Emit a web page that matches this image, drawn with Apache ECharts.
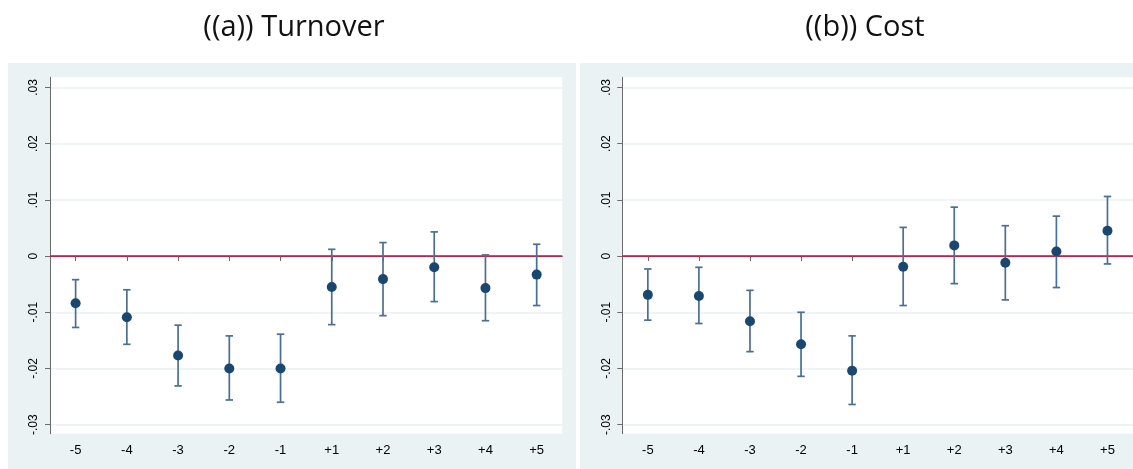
<!DOCTYPE html>
<html>
<head>
<meta charset="utf-8">
<script src="https://cdn.jsdelivr.net/npm/echarts@6/dist/echarts.min.js"></script>
<style>
html,body{margin:0;padding:0;background:#fff;}
#c{width:1133px;height:469px;}
</style>
</head>
<body>
<div id="c"></div>
<script>
// ---- data ----
const categories = ['-5','-4','-3','-2','-1','+1','+2','+3','+4','+5'];
const titles = ['((a)) Turnover', '((b)) Cost'];

const turnoverCoef = [-0.0084, -0.0109, -0.0177, -0.0200, -0.0200, -0.0055, -0.0041, -0.0020, -0.0057, -0.0033];
const turnoverLow  = [-0.0127, -0.0157, -0.0231, -0.0256, -0.0260, -0.0122, -0.0106, -0.0081, -0.0115, -0.0088];
const turnoverHigh = [-0.0042, -0.0060, -0.0123, -0.0142, -0.0139,  0.0012,  0.0024,  0.0043,  0.0002,  0.0021];

const costCoef = [-0.0069, -0.0071, -0.0116, -0.0157, -0.0204, -0.0019,  0.0019, -0.0012,  0.0008,  0.0045];
const costLow  = [-0.0114, -0.0120, -0.0170, -0.0214, -0.0264, -0.0088, -0.0049, -0.0078, -0.0056, -0.0014];
const costHigh = [-0.0023, -0.0020, -0.0061, -0.0100, -0.0142,  0.0051,  0.0087,  0.0054,  0.0071,  0.0106];

const yTickValues = [-0.03, -0.02, -0.01, 0, 0.01, 0.02, 0.03];
const yTickLabels = ['-.03', '-.02', '-.01', '0', '.01', '.02', '.03'];
const referenceLine = 0;

// ---- chart ----
const chart = echarts.init(document.getElementById('c'), null, {renderer: 'canvas'});

const navy = '#1a476f';
const barColor = '#4a6f93';
const textColor = '#000';
const axisColor = '#6b6b6b';
const panelBg = '#eaf2f3';

const grids = [
  {left: 50, top: 77.3, right: 570.7, bottom: 35.3},
  {left: 622.3, top: 77.3, right: -1, bottom: 35.3}
];

function makeX(gi) {
  return {
    type: 'category', gridIndex: gi, data: categories, boundaryGap: true,
    axisLine: {show: true, lineStyle: {color: axisColor, width: 1}},
    axisTick: {show: true, alignWithLabel: true, length: 5, lineStyle: {color: axisColor}},
    axisLabel: {color: textColor, fontFamily: 'Arial, Liberation Sans, sans-serif', fontSize: 13, margin: 10},
    splitLine: {show: false}
  };
}
function makeY(gi) {
  return {
    type: 'value', gridIndex: gi, min: -0.0316, max: 0.0318,
    axisLine: {show: true, lineStyle: {color: axisColor, width: 1}},
    axisTick: {show: true, length: 5, customValues: yTickValues, lineStyle: {color: axisColor}},
    axisLabel: {
      show: true, customValues: yTickValues, rotate: 90, color: textColor,
      fontFamily: 'Arial, Liberation Sans, sans-serif', fontSize: 12, margin: 10,
      formatter: function (v) {
        const i = yTickValues.findIndex(t => Math.abs(t - v) < 1e-9);
        return i >= 0 ? yTickLabels[i] : '';
      }
    },
    splitLine: {show: true, lineStyle: {color: '#eaf2f3', width: 1.5}}
  };
}

function errorSeries(gi, low, high) {
  return {
    type: 'custom', xAxisIndex: gi, yAxisIndex: gi, z: 3,
    data: categories.map((c, i) => [i, low[i], high[i]]),
    renderItem: function (params, api) {
      const x = api.value(0);
      const p1 = api.coord([x, api.value(1)]);
      const p2 = api.coord([x, api.value(2)]);
      const hw = 3.7;
      const style = {stroke: barColor, lineWidth: 1.7, fill: null};
      return {
        type: 'group',
        children: [
          {type: 'line', shape: {x1: p1[0], y1: p1[1], x2: p2[0], y2: p2[1]}, style: style},
          {type: 'line', shape: {x1: p1[0] - hw, y1: p1[1], x2: p1[0] + hw, y2: p1[1]}, style: style},
          {type: 'line', shape: {x1: p2[0] - hw, y1: p2[1], x2: p2[0] + hw, y2: p2[1]}, style: style}
        ]
      };
    }
  };
}
function pointSeries(gi, coef) {
  return {
    type: 'scatter', xAxisIndex: gi, yAxisIndex: gi, z: 4,
    symbol: 'circle', symbolSize: 10,
    itemStyle: {color: navy, opacity: 1},
    data: coef.map((v, i) => [i, v]),
    markLine: {
      silent: true, symbol: 'none', label: {show: false}, z: 2,
      lineStyle: {color: '#d0103a', width: 1.5, type: 'solid'},
      data: [{yAxis: referenceLine}]
    }
  };
}

const titleStyle = {fontFamily: 'Open Sans, sans-serif', fontSize: 29, fontWeight: 'normal', color: '#111'};
const option = {
  backgroundColor: '#ffffff',
  animation: false,
  graphic: [
    {type: 'rect', shape: {x: 8, y: 63, width: 568, height: 406}, style: {fill: panelBg}, z: -10, silent: true},
    {type: 'rect', shape: {x: 580, y: 63, width: 553, height: 406}, style: {fill: panelBg}, z: -10, silent: true}
  ],
  title: [
    {text: titles[0], left: 289, top: 8, textAlign: 'center', textStyle: titleStyle},
    {text: titles[1], left: 860, top: 8, textAlign: 'center', textStyle: titleStyle}
  ],
  grid: grids.map(g => Object.assign({show: true, backgroundColor: '#ffffff', borderWidth: 0, containLabel: false}, g)),
  xAxis: [makeX(0), makeX(1)],
  yAxis: [makeY(0), makeY(1)],
  series: [
    errorSeries(0, turnoverLow, turnoverHigh),
    pointSeries(0, turnoverCoef),
    errorSeries(1, costLow, costHigh),
    pointSeries(1, costCoef)
  ]
};
chart.setOption(option);
</script>
</body>
</html>
